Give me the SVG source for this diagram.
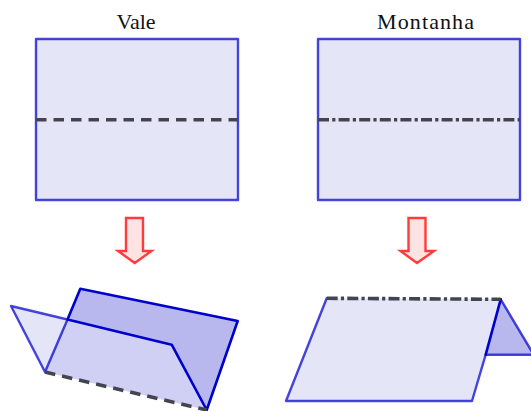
<svg xmlns="http://www.w3.org/2000/svg" width="531" height="411" viewBox="0 0 531 411">
  <style>
    text { font-family: "Liberation Serif", "Times New Roman", serif; font-size: 22px; fill: #111; text-anchor: middle; }
    .sheet { fill: #e5e5f8; stroke: none; }
    .line { fill: none; stroke: #0000cc; stroke-opacity: .72; stroke-width: 2.4; stroke-linecap: round; stroke-linejoin: round; }
    .dark { fill: #b8b8ef; stroke: none; }
    .overlap { fill: #d0d0f4; stroke: none; }
    .edge { fill: none; stroke: #0000cc; stroke-width: 2.6; stroke-linecap: round; stroke-linejoin: round; }
    .fold { fill: none; stroke: #444450; stroke-width: 3.6; }
    .valley { stroke-dasharray: 10.5 7; }
    .mountain { stroke-dasharray: 11 3.2 3.2 3.2; }
    .arrow { fill: #ffe3e3; stroke: #ff3c3c; stroke-width: 2.4; stroke-linejoin: miter; }
  </style>
  <g id="label-vale"><text x="136" y="29">Vale</text></g>
  <g id="label-montanha"><text x="425.500" y="29" textLength="97">Montanha</text></g>
  <g id="sheet-vale"><rect class="sheet" x="36" y="39" width="202" height="161"/><rect class="line" x="36" y="39" width="202" height="161"/></g>
  <g id="sheet-montanha"><rect class="sheet" x="318" y="39" width="202" height="161"/><rect class="line" x="318" y="39" width="202" height="161"/></g>
  <g id="arrow-vale"><path class="arrow" d="M126 218H143V251H151.500L134.700 263L118 251H126Z"/></g>
  <g id="arrow-montanha"><path class="arrow" d="M408.500 218H425.500V251H434L417 263L400.500 251H408.500Z"/></g>
  <g id="fold-vale">
    <path class="dark" d="M80.300 288.700L237.700 321L206.700 410L171.700 344.700L67.500 319.500Z"/>
    <path class="sheet" d="M11 306L67.500 319.500L45 372Z"/>
    <path class="overlap" d="M67.500 319.500L171.700 344.700L206.700 410L45 372Z"/>
    <path class="line" d="M67.500 319.500L11 306L45 372L67.500 319.500"/>
    <path class="edge" d="M67.500 319.500L80.300 288.700L237.700 321L206.700 410L171.700 344.700L67.500 319.500"/>
  </g>
  <g id="fold-montanha">
    <path class="dark" d="M500.700 299.300L533.700 354.700H485.700Z"/>
    <path class="line" d="M500.700 299.300L533.700 354.700H485.700"/>
    <path class="sheet" d="M326.700 298.300L500.700 299.300L472 401L286 401Z"/>
    <path class="line" d="M326.700 298.300L286 401H472L485.700 354.700"/>
    <path class="edge" d="M500.700 299.300L485.700 354.700"/>
  </g>
  <g id="connectors">
    <path class="fold valley" d="M36 119.700H238"/>
    <path class="fold mountain" d="M318 119.700H520"/>
    <path class="fold valley" d="M45 372L206.700 410"/>
    <path class="fold mountain" d="M326.700 298.300L500.700 299.300"/>
  </g>
</svg>
